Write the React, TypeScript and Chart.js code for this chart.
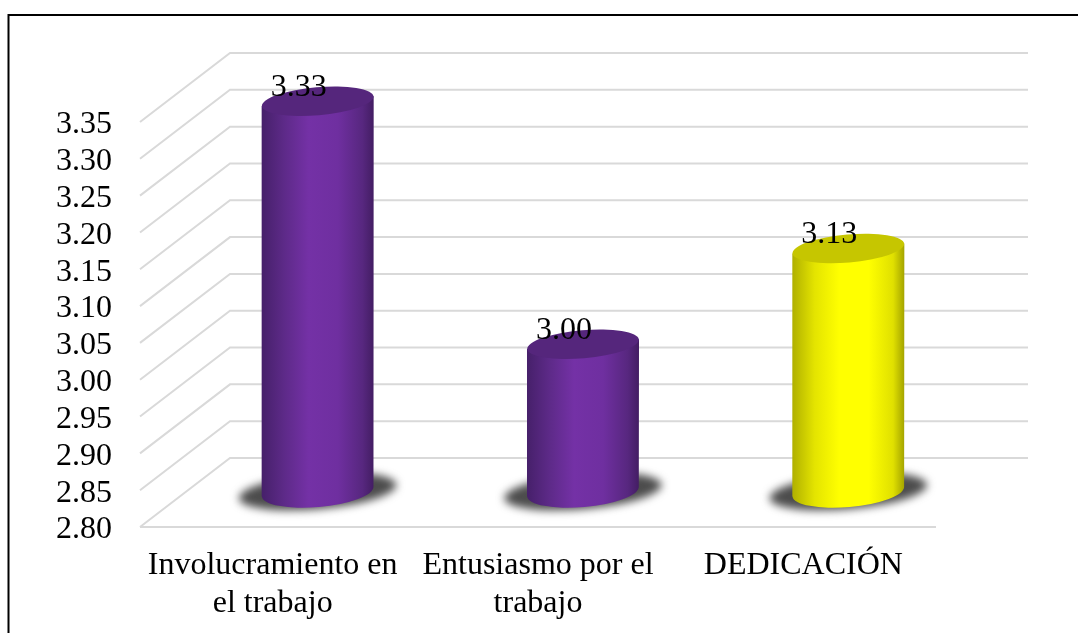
import React, { useEffect, useRef } from "react";
import { Chart, registerables } from "chart.js";

Chart.register(...registerables);

const categories = [["Involucramiento en", "el trabajo"], ["Entusiasmo por el", "trabajo"], ["DEDICACIÓN"]];
const values = [3.33, 3.0, 3.13];
const yMin = 2.8;
const yMax = 3.35;
const yStep = 0.05;

const purple = {
  wall: ["#46206a", "#5d2a88", "#7431a6", "#6f2fa0", "#57277f", "#431d63"],
  cap: "#55267c",
};
const yellow = {
  wall: ["#b0b000", "#e4e400", "#ffff00", "#ffff00", "#e0e000", "#a4a400"],
  cap: "#c6c600",
};
const palettes = [purple, purple, yellow];
const wallStops = [0, 0.2, 0.42, 0.68, 0.9, 1];

const SERIF = '"Liberation Serif", "Times New Roman", serif';
const GRID = "#d9d9d9";
// Oblique offset from the front plane to the back wall of the 3-D box
const DEPTH_X = 90;
const DEPTH_Y = -69;

const wallPlugin = {
  id: "wall",
  beforeDatasetsDraw(chart: any) {
    const { ctx, chartArea, scales } = chart;
    const { left, right, bottom } = chartArea;
    ctx.save();
    // Frame around the figure: top and left rules only
    ctx.strokeStyle = "#000";
    ctx.lineWidth = 2;
    ctx.beginPath();
    ctx.moveTo(8.5, 633);
    ctx.lineTo(8.5, 15);
    ctx.lineTo(1078, 15);
    ctx.stroke();

    ctx.strokeStyle = GRID;
    ctx.lineWidth = 2;
    for (const tick of scales.y.ticks) {
      const y = scales.y.getPixelForValue(tick.value);
      ctx.beginPath();
      ctx.moveTo(left, y);
      ctx.lineTo(left + DEPTH_X, y + DEPTH_Y);
      ctx.lineTo(right + DEPTH_X + 2, y + DEPTH_Y);
      ctx.stroke();
    }
    ctx.beginPath();
    ctx.moveTo(left, bottom);
    ctx.lineTo(right, bottom);
    ctx.stroke();
    ctx.restore();
  },
};

const cylinderPlugin = {
  id: "cylinder",
  afterDatasetsDraw(chart: any) {
    const { ctx } = chart;
    const meta = chart.getDatasetMeta(0);
    const tilt = (-5 * Math.PI) / 180;
    meta.data.forEach((bar: any, i: number) => {
      const cx = bar.x + DEPTH_X / 2;
      const top = bar.y + DEPTH_Y / 2 - 1;
      const base = bar.base + DEPTH_Y / 2 - 1;
      const rx = bar.width / 2;
      const p = palettes[i];
      const xL = cx - rx;
      const xR = cx + rx;
      const skew = rx * Math.sin(-tilt);

      ctx.save();
      // Soft floor shadow under the base
      ctx.save();
      ctx.filter = "blur(4px)";
      ctx.fillStyle = "#4c4c4c";
      ctx.beginPath();
      ctx.ellipse(cx, base, rx + 23, 17.5, tilt, 0, Math.PI * 2);
      ctx.fill();
      ctx.restore();

      // Cylinder wall
      const g = ctx.createLinearGradient(xL, 0, xR, 0);
      wallStops.forEach((s, k) => g.addColorStop(s, p.wall[k]));
      ctx.fillStyle = g;
      ctx.beginPath();
      ctx.moveTo(xL, top + skew);
      ctx.lineTo(xL, base + skew);
      ctx.ellipse(cx, base, rx, 15.5, tilt, Math.PI, 0, true);
      ctx.lineTo(xR, top - skew);
      ctx.closePath();
      ctx.fill();

      // Top cap
      ctx.fillStyle = p.cap;
      ctx.beginPath();
      ctx.ellipse(cx, top, rx, 14, tilt, 0, Math.PI * 2);
      ctx.fill();
      ctx.restore();

      // Value label straddling the rim
      ctx.save();
      ctx.fillStyle = "#000";
      ctx.font = `32px ${SERIF}`;
      ctx.textAlign = "center";
      ctx.textBaseline = "middle";
      ctx.fillText(values[i].toFixed(2), cx - 19, top - 14);
      ctx.restore();
    });
  },
};

export default function App() {
  const ref = useRef<HTMLCanvasElement>(null);
  useEffect(() => {
    const chart = new Chart(ref.current as HTMLCanvasElement, {
      type: "bar",
      data: {
        labels: categories as any,
        datasets: [
          {
            data: values,
            base: yMin,
            backgroundColor: "rgba(0,0,0,0)",
            borderWidth: 0,
            barPercentage: 112 / 265.3,
            categoryPercentage: 1,
          },
        ],
      },
      options: {
        animation: false,
        responsive: false,
        devicePixelRatio: 1,
        layout: { padding: { top: 122, right: 142, left: 0, bottom: 0 } },
        plugins: { legend: { display: false }, tooltip: { enabled: false } },
        scales: {
          x: {
            grid: { display: false },
            border: { display: false },
            afterFit(scale: any) {
              scale.height = 106;
            },
            ticks: {
              color: "#000",
              maxRotation: 0,
              autoSkip: false,
              padding: 11,
              font: { family: SERIF, size: 32, lineHeight: 1.2 },
            },
          },
          y: {
            min: yMin,
            max: yMax,
            grid: { display: false },
            border: { display: false },
            afterFit(scale: any) {
              scale.width = 140;
            },
            ticks: {
              stepSize: yStep,
              autoSkip: false,
              color: "#000",
              padding: 20,
              labelOffset: 3,
              font: { family: SERIF, size: 32 },
              callback: (v: any) => Number(v).toFixed(2),
            },
          },
        },
      },
      plugins: [wallPlugin, cylinderPlugin],
    } as any);
    return () => chart.destroy();
  }, []);
  return (
    <canvas
      ref={ref}
      width={1078}
      height={633}
      style={{ position: "fixed", left: 0, top: 0, width: 1078, height: 633, display: "block", background: "#fff" }}
    />
  );
}
